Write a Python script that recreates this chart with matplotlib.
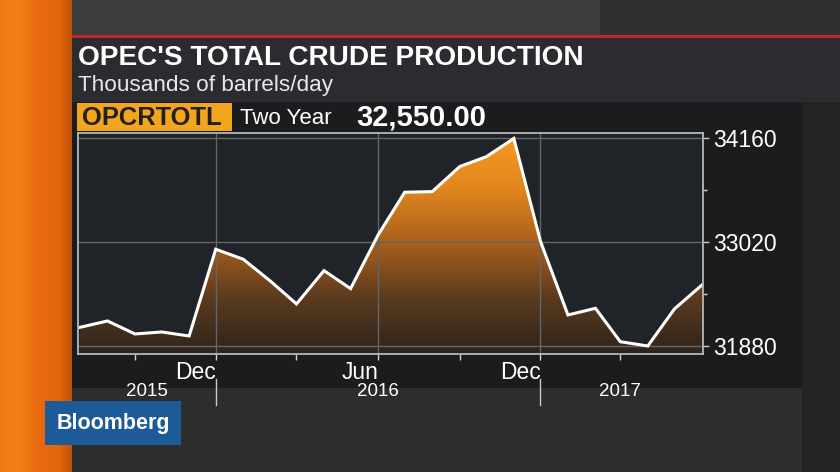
"""
OPEC total crude production, Bloomberg TV style chart
Saves: out.png
"""

import numpy as np
import pandas as pd
import matplotlib
matplotlib.use('Agg')
import matplotlib.pyplot as plt
import matplotlib.dates as mdates
from matplotlib.patches import Rectangle, Polygon
from matplotlib.colors import LinearSegmentedColormap

plt.rcParams['font.family'] = ['Liberation Sans', 'DejaVu Sans']

# -- data --
months = pd.date_range('2015-07-01', periods=24, freq='MS')
production = [32085, 32155, 32012, 32034, 31990, 32943, 32833, 32590,
              32342, 32708, 32510, 33100, 33569, 33576, 33851, 33960,
              34160, 33031, 32221, 32294, 31927, 31880, 32287, 32550]

ytick_vals = [31880, 33020, 34160]
ytick_minor = [32450, 33590]
xtick_major = pd.to_datetime(['2015-12-01', '2016-06-01', '2016-12-01'])
xtick_labels = ['Dec', 'Jun', 'Dec']
xtick_minor = pd.to_datetime(['2015-09-01', '2016-03-01', '2016-09-01', '2017-03-01'])
year_labels = ['2015', '2016', '2017']
year_pos = pd.to_datetime(['2015-09-15', '2016-06-01', '2017-03-01'])
year_breaks = pd.to_datetime(['2015-12-01', '2016-12-01'])

title = "OPEC'S TOTAL CRUDE PRODUCTION"
subtitle = 'Thousands of barrels/day'
ticker = 'OPCRTOTL'
period = 'Two Year'
last_value = '32,550.00'

# -- figure --
W, H = 840, 472
fig = plt.figure(figsize=(W / 100, H / 100), dpi=100)
fig.patch.set_facecolor('#2d2f30')

# background layer in pixel coordinates
bg = fig.add_axes([0, 0, 1, 1])
bg.set_xlim(0, W)
bg.set_ylim(H, 0)
bg.axis('off')

def rect(x0, y0, x1, y1, color, z=1):
    bg.add_patch(Rectangle((x0, y0), x1 - x0, y1 - y0, facecolor=color,
                           edgecolor='none', zorder=z))

rect(0, 0, W, 36, '#3b3c3e')
rect(600, 0, W, 36, '#2f3031', 1.1)
rect(70, 35, W, 38, '#c2262d', 2)
rect(70, 38, W, 102, '#2a2c2f', 2)
rect(70, 102, 802, 388, '#1b1c1e', 2)
rect(802, 102, W, H, '#222424', 2)
rect(70, 388, 802, H, '#2c2e2e', 2)

# orange strip on the left
xs = np.linspace(0, 72, 200)
r = np.interp(xs, [0, 20, 40, 60, 72], [0.94, 0.95, 0.91, 0.89, 0.74])
g = np.interp(xs, [0, 20, 40, 60, 72], [0.48, 0.50, 0.41, 0.40, 0.32])
b = np.interp(xs, [0, 20, 40, 60, 72], [0.08, 0.09, 0.06, 0.05, 0.04])
strip = np.stack([r, g, b], axis=-1)[None, :, :]
bg.imshow(strip, extent=(0, 72, H, 0), aspect='auto', zorder=3)
bg.set_xlim(0, W)
bg.set_ylim(H, 0)

# titles
bg.text(78, 58, title, color='white', fontsize=20.2, fontweight='bold',
        va='center', ha='left', zorder=5)
bg.text(78, 86, subtitle, color='#e8e8e8', fontsize=16.2, va='center',
        ha='left', zorder=5)

# ticker bar
rect(77, 103, 232, 131, '#f3a51f', 4)
bg.text(82, 118, ticker, color='#231f1a', fontsize=18.4, fontweight='bold',
        va='center', ha='left', zorder=5)
bg.text(240, 118, period, color='white', fontsize=16, va='center',
        ha='left', zorder=5)
bg.text(356, 118, last_value, color='white', fontsize=21, fontweight='bold',
        va='center', ha='left', zorder=5)

# Bloomberg logo
rect(45, 401, 181, 445, '#1d5a98', 6)
bg.text(113, 423, 'Bloomberg', color='white', fontsize=15.5,
        fontweight='bold', va='center', ha='center', zorder=7)

# -- chart --
left, right, top, bottom = 78, 703, 133, 354
ax = fig.add_axes([left / W, 1 - bottom / H, (right - left) / W, (bottom - top) / H])
ax.set_facecolor('#202428')

x = mdates.date2num(months)
step = (x[-1] - x[0]) / 23
xlo, xhi = x[0] - 0.074 * step, x[-1] + 0.04 * step
ylo, yhi = 31792, 34220
ax.set_xlim(xlo, xhi)
ax.set_ylim(ylo, yhi)

# gradient fill under the line
cmap = LinearSegmentedColormap.from_list(
    'fill', ['#2e241c', '#5a3a1f', '#a85f1c', '#e2861e', '#f99a22'])
grad = np.linspace(0, 1, 256)[:, None]
im = ax.imshow(grad, cmap=cmap, extent=(xlo, xhi, ylo, yhi), origin='lower',
               aspect='auto', zorder=2)
verts = [(x[0], ylo)] + list(zip(x, production)) + [(x[-1], ylo)]
poly = Polygon(verts, closed=True, facecolor='none', edgecolor='none')
ax.add_patch(poly)
im.set_clip_path(poly)

ax.plot(x, production, color='white', linewidth=2.2, zorder=4,
        solid_joinstyle='miter')

# grid
for v in ytick_vals:
    ax.axhline(v, color='#62666a', linewidth=1, zorder=3)
for d in xtick_major:
    ax.axvline(mdates.date2num(d), color='#62666a', linewidth=1, zorder=3)

# axes
ax.yaxis.tick_right()
ax.set_yticks(ytick_vals)
ax.set_yticklabels([str(v) for v in ytick_vals])
ax.set_yticks(ytick_minor, minor=True)
ax.set_xticks(mdates.date2num(xtick_major))
ax.set_xticklabels(xtick_labels)
ax.set_xticks(mdates.date2num(xtick_minor), minor=True)
for lbl in ax.get_xticklabels():
    lbl.set_ha('right')

ax.tick_params(axis='y', which='major', length=4.5, width=1, color='#d0d0d0',
               pad=2.5, labelsize=16.5, labelcolor='white')
ax.tick_params(axis='y', which='minor', length=3, width=1, color='#d0d0d0')
ax.tick_params(axis='x', which='major', length=4.5, width=1, color='#d0d0d0',
               pad=0.5, labelsize=16.5, labelcolor='white')
ax.tick_params(axis='x', which='minor', length=4.5, width=1, color='#d0d0d0')

for s in ax.spines.values():
    s.set_color('#b8b8b8')
    s.set_linewidth(1.3)
    s.set_zorder(5)

# year labels and separators under the axis
xt = ax.get_xaxis_transform()
for d in year_breaks:
    ax.plot([mdates.date2num(d)] * 2, [-0.115, -0.23], transform=xt,
            color='#c8c8c8', linewidth=1, clip_on=False)
for d, lab in zip(year_pos, year_labels):
    ax.text(mdates.date2num(d), -0.168, lab, transform=xt, color='white',
            fontsize=13.5, ha='center', va='center')

fig.savefig('out.png', dpi=100, facecolor=fig.get_facecolor())
print('Saved: out.png')
